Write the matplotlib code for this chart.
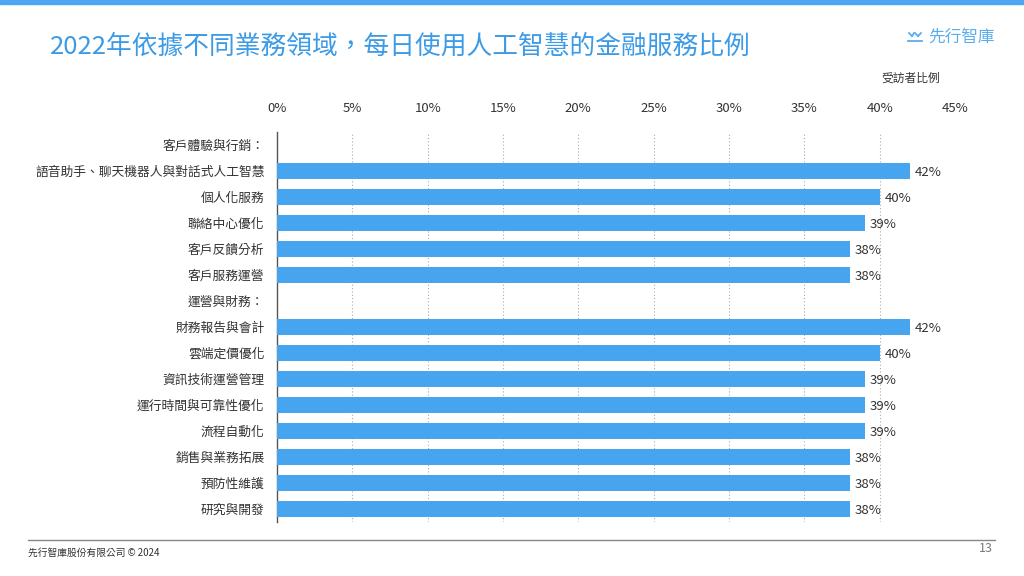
import matplotlib.pyplot as plt
from matplotlib.lines import Line2D
from matplotlib.patches import Rectangle

plt.rcParams['font.family'] = ['Noto Sans CJK TC', 'DejaVu Sans']

# rows from top to bottom; None marks a group header row
labels = ['客戶體驗與行銷：', '語音助手、聊天機器人與對話式人工智慧', '個人化服務', '聯絡中心優化',
          '客戶反饋分析', '客戶服務運營', '運營與財務：', '財務報告與會計', '雲端定價優化',
          '資訊技術運營管理', '運行時間與可靠性優化', '流程自動化', '銷售與業務拓展',
          '預防性維護', '研究與開發']
values = [None, 42, 40, 39, 38, 38, None, 42, 40, 39, 39, 39, 38, 38, 38]
x_ticks = [0, 5, 10, 15, 20, 25, 30, 35, 40, 45]

blue = '#47a4ee'
title_blue = '#3d9be6'
text_col = '#333333'

fig = plt.figure(figsize=(10.24, 5.76), dpi=100)
ax = fig.add_axes([277 / 1024, 1 - 522 / 576, (955 - 277) / 1024, 390 / 576])

rows = list(range(len(labels)))
for i, v in zip(rows, values):
    if v is None:
        continue
    ax.barh(i, v, height=0.62, color=blue, zorder=3)
    ax.text(v + 0.35, i + 0.06, f'{v}%', va='center', ha='left', fontsize=9.5, color=text_col)

ax.set_xlim(0, 45)
ax.set_ylim(len(labels) - 0.5, -0.5)
ax.set_xticks(x_ticks)
ax.set_xticklabels([f'{t}%' for t in x_ticks], fontsize=9.5, color=text_col)
ax.xaxis.tick_top()
ax.tick_params(axis='x', length=0, pad=12)
ax.set_yticks(rows)
ax.set_yticklabels(labels, fontsize=9.2, color=text_col)
ax.tick_params(axis='y', length=0, pad=9)
for t in x_ticks[1:]:
    ax.axvline(t, color='#aaaaaa', linestyle=(0, (1, 2)), linewidth=0.8, zorder=1)
for s in ['top', 'right', 'bottom']:
    ax.spines[s].set_visible(False)
ax.spines['left'].set_color('#555555')
ax.spines['left'].set_linewidth(1)


def px(x, y):
    return x / 1024, 1 - y / 576


# decorations
fig.patches.append(Rectangle((0, 1 - 4 / 576), 1, 4 / 576, transform=fig.transFigure,
                             color='#4da6f0', zorder=0))
fig.text(*px(50, 47), '2022年依據不同業務領域，每日使用人工智慧的金融服務比例',
         fontsize=18.5, color=title_blue, va='center', ha='left', fontweight='medium')

# logo mark + name
logo_col = '#5aaef0'
for seg in [[(909, 33), (912, 36)], [(912, 36), (914, 33)], [(915, 33), (918, 36)],
            [(918, 36), (921, 33)], [(908, 41), (922, 41)]]:
    xs, ys = zip(*[px(*p) for p in seg])
    fig.lines.append(Line2D(xs, ys, transform=fig.transFigure, color=logo_col, linewidth=1.3))
fig.text(*px(995, 37), '先行智庫', fontsize=12, color=logo_col, va='center', ha='right')

fig.text(*px(940, 78), '受訪者比例', fontsize=8.5, color=text_col, va='center', ha='right')
fig.lines.append(Line2D([28 / 1024, 995 / 1024], [1 - 540 / 576, 1 - 540 / 576],
                        transform=fig.transFigure, color='#888888', linewidth=1))
fig.text(*px(28, 553), '先行智庫股份有限公司 © 2024', fontsize=7, color='#333333',
         va='center', ha='left')
fig.text(*px(993, 549), '13', fontsize=9, color='#777777', va='center', ha='right')

fig.savefig('out.png', dpi=100)
